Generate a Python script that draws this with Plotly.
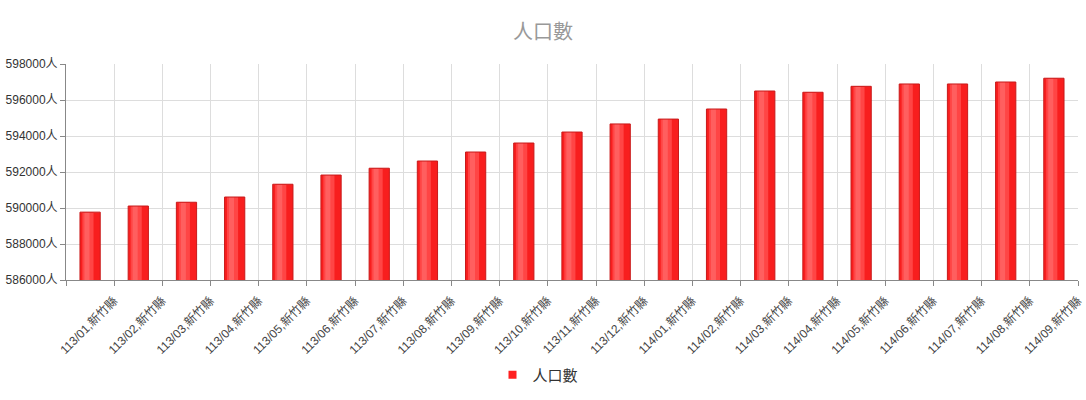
import plotly.graph_objects as go

categories = ["113/01,新竹縣", "113/02,新竹縣", "113/03,新竹縣", "113/04,新竹縣", "113/05,新竹縣",
              "113/06,新竹縣", "113/07,新竹縣", "113/08,新竹縣", "113/09,新竹縣", "113/10,新竹縣",
              "113/11,新竹縣", "113/12,新竹縣", "114/01,新竹縣", "114/02,新竹縣", "114/03,新竹縣",
              "114/04,新竹縣", "114/05,新竹縣", "114/06,新竹縣", "114/07,新竹縣", "114/08,新竹縣",
              "114/09,新竹縣"]
population = [589770, 590110, 590320, 590610, 591320,
              591830, 592210, 592610, 593110, 593610,
              594220, 594670, 594940, 595500, 596500,
              596430, 596760, 596890, 596890, 597000,
              597210]
y_ticks = [586000, 588000, 590000, 592000, 594000, 596000, 598000]
y_tick_labels = [f"{v}人" for v in y_ticks]
series_name = "人口數"

FONT = "Liberation Sans, Arial, Noto Sans CJK TC, sans-serif"
W = 0.42

fig = go.Figure()
# base fill
fig.add_trace(go.Bar(x=categories, y=population, width=W, name=series_name,
                     marker=dict(color="#f81e1e", line=dict(width=0)),
                     showlegend=False, hoverinfo="skip"))
# gradient highlight layers
fig.add_trace(go.Bar(x=categories, y=population, width=W * 0.55, offset=-W / 2 + W * 0.12,
                     marker=dict(color="#ff4545", line=dict(width=0)),
                     showlegend=False, hoverinfo="skip"))
fig.add_trace(go.Bar(x=categories, y=population, width=W * 0.25, offset=-W / 2 + W * 0.22,
                     marker=dict(color="#ff5f5f", line=dict(width=0)),
                     showlegend=False, hoverinfo="skip"))
# outline
fig.add_trace(go.Bar(x=categories, y=population, width=W, name=series_name,
                     marker=dict(color="rgba(0,0,0,0)", line=dict(width=1, color="#c81a1a")),
                     showlegend=False))
# legend entry
fig.add_trace(go.Scatter(x=[None], y=[None], mode="markers", name=series_name,
                         marker=dict(symbol="square", size=8, color="#ff2020"),
                         showlegend=True))

fig.update_layout(
    width=1086, height=400,
    barmode="overlay",
    paper_bgcolor="white", plot_bgcolor="white",
    margin=dict(l=66, r=8, t=64, b=120, autoexpand=False),
    font=dict(family=FONT, color="#333"),
    title=dict(text=series_name, x=543 / 1086, xanchor="center", y=1 - 32 / 400,
               yanchor="middle", font=dict(size=20, color="#999", family=FONT)),
    showlegend=True,
    legend=dict(orientation="h", x=(538 - 66) / 1012, xanchor="center", y=-0.44, yanchor="middle",
                font=dict(size=15, color="#333", family=FONT),
                itemwidth=30, bgcolor="rgba(0,0,0,0)"),
    xaxis=dict(type="category", tickson="boundaries", range=[-0.5, len(categories) - 0.5],
               automargin=False,
               showgrid=True, gridcolor="#dddddd", gridwidth=1,
               showline=True, linecolor="#888", linewidth=1,
               ticks="outside", ticklen=5, tickcolor="#888",
               tickangle=-45, ticklabelshift=24, ticklabelstandoff=8,
               tickfont=dict(size=12, color="#444", family=FONT)),
    yaxis=dict(range=[586000, 598000], tickvals=y_ticks, ticktext=y_tick_labels,
               automargin=False,
               showgrid=True, gridcolor="#dddddd", gridwidth=1, zeroline=False,
               showline=True, linecolor="#888", linewidth=1,
               ticks="outside", ticklen=5, tickcolor="#888",
               tickfont=dict(size=12, color="#333", family=FONT)),
)

fig.write_html("out.html", config={"displayModeBar": False},
               post_script="document.body.style.margin='0';")
